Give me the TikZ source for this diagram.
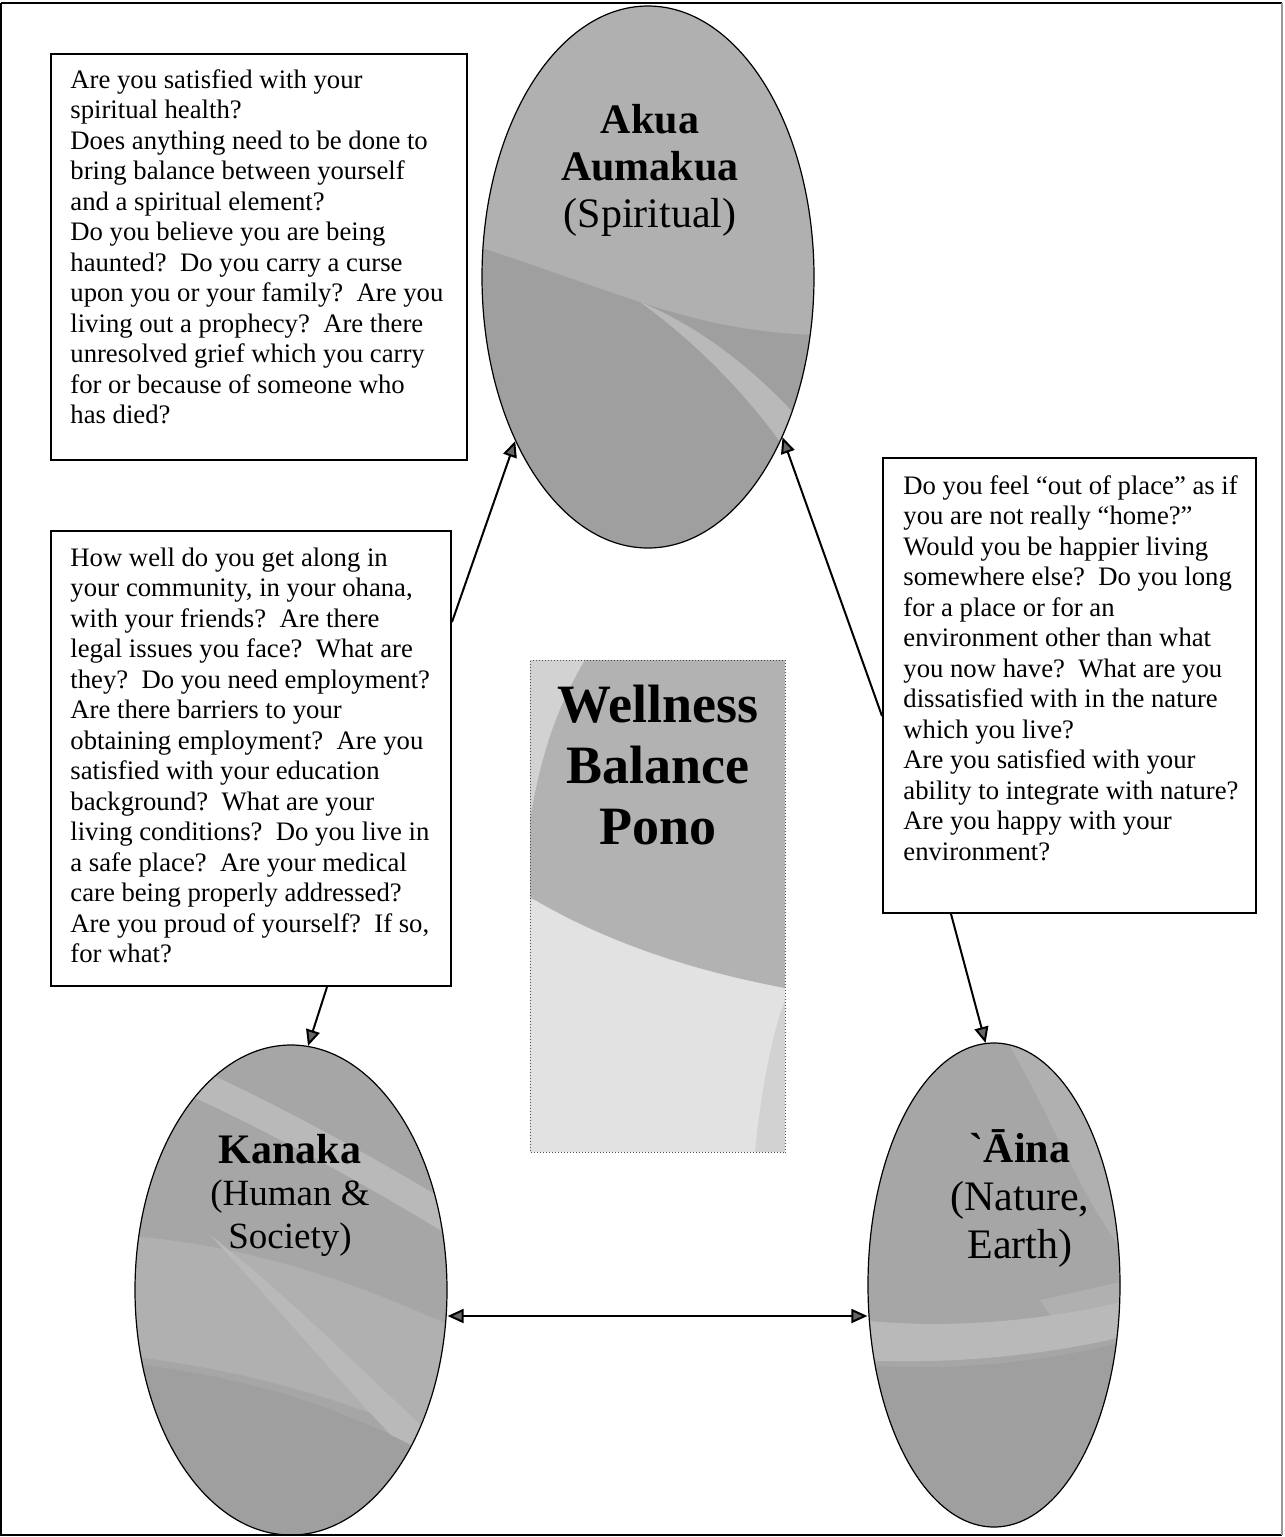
\documentclass[tikz,border=0pt]{standalone}
\usepackage{fontspec}
\setmainfont{Liberation Serif}
\newfontfamily\plainserif{Liberation Serif}[Ligatures=TeXOff]
\usetikzlibrary{shapes.geometric,arrows.meta,calc}

\definecolor{ovalbase}{HTML}{A6A6A6}
\definecolor{ovallight}{HTML}{B0B0B0}
\definecolor{ovalband}{HTML}{B9B9B9}
\definecolor{ovaldark}{HTML}{9F9F9F}
\definecolor{panelgray}{HTML}{B2B2B2}
\definecolor{panellight}{HTML}{D2D2D2}
\definecolor{panelpale}{HTML}{E2E2E2}

\tikzset{
  qbox/.style={draw=black, line width=1pt, rectangle, inner sep=0pt, anchor=north west},
  qtext/.style={anchor=base west, inner sep=0pt, font=\fontsize{13.35}{15.25}\selectfont},
  oval/.style={draw=black, line width=0.6pt, ellipse, inner sep=0pt},
  link/.style={draw=black, line width=1pt, -{Triangle[length=8pt,width=7pt,fill=black!60]}},
  twoway/.style={draw=black, line width=1pt, {Triangle[length=8pt,width=7pt,fill=black!60]}-{Triangle[length=8pt,width=7pt,fill=black!60]}},
}

\begin{document}
\begin{tikzpicture}[x=0.5pt,y=-0.5pt]
\useasboundingbox (0,0) rectangle (1285,1537);
\fill[white] (0,0) rectangle (1285,1537);

% ---- shaded fills of the three ovals ----
\begin{scope}
  \clip (648,277) ellipse [x radius=166, y radius=271];
  \fill[ovaldark] (470,0) rectangle (830,560);
  \fill[ovallight] (470,0) -- (830,0) -- (830,335)
     .. controls (760,335) and (700,322) .. (640,302)
     .. controls (580,282) and (520,260) .. (470,244) -- cycle;
  % tapered light streak running to the lower right
  \fill[ovalband] (640,302) .. controls (720,335) and (790,400) .. (840,470)
     -- (840,540) .. controls (790,440) and (720,360) .. (640,302) -- cycle;
\end{scope}

\begin{scope}
  \clip (291,1290) ellipse [x radius=156, y radius=245];
  \fill[ovalbase] (120,1030) rectangle (460,1540);
  \draw[ovalband, line width=14pt] (150,1062) .. controls (260,1110) and (370,1170) .. (470,1232);
  \fill[ovallight] (120,1235) .. controls (250,1245) and (350,1280) .. (460,1330)
     -- (460,1450) .. controls (350,1400) and (250,1370) .. (120,1355) -- cycle;
  \fill[ovalband] (210,1235) .. controls (300,1305) and (380,1390) .. (470,1470)
     -- (470,1515) .. controls (370,1420) and (290,1320) .. (210,1235) -- cycle;
  \fill[ovaldark] (120,1362) .. controls (250,1377) and (350,1407) .. (460,1472)
     -- (460,1540) -- (120,1540) -- cycle;
\end{scope}

\begin{scope}
  \clip (994,1285) ellipse [x radius=126, y radius=242];
  \fill[ovalbase] (860,1030) rectangle (1130,1540);
  \fill[ovallight] (1000,1030) .. controls (1050,1110) and (1080,1200) .. (1130,1260) -- (1130,1030) -- cycle;
  \fill[ovallight] (1040,1300) -- (1130,1280) -- (1130,1330) -- (1060,1330) -- cycle;
  \fill[ovalband] (860,1320) .. controls (950,1330) and (1050,1320) .. (1130,1300)
     -- (1130,1335) .. controls (1050,1355) and (950,1365) .. (860,1360) -- cycle;
  \fill[ovaldark] (860,1365) .. controls (950,1372) and (1050,1362) .. (1130,1340)
     -- (1130,1540) -- (860,1540) -- cycle;
\end{scope}

% ---- central panel fill ----
\begin{scope}
  \clip (530,660) rectangle (785,1152);
  \fill[panelpale] (530,660) rectangle (785,1152);
  \fill[panellight] (530,660) rectangle (785,900);
  \fill[panelgray] (585,660) -- (785,660) -- (785,988)
     .. controls (700,972) and (610,945) .. (530,897) -- (530,820)
     .. controls (540,760) and (555,710) .. (585,660) -- cycle;
  \fill[panellight] (785,1000) -- (785,1152) -- (755,1152)
     .. controls (760,1100) and (770,1040) .. (785,1000) -- cycle;
\end{scope}

% ---- outer frame ----
\draw[line width=1pt] (1,3) -- (1282,3);
\draw[line width=1pt] (1,3) -- (1,1535) -- (1282,1535);
\draw[line width=1pt, black!40] (1282,3) -- (1282,1535);

% ---- ovals ----
\node[oval, minimum width=166pt, minimum height=271pt] (akua) at (648,277) {};
\node[oval, minimum width=156pt, minimum height=245pt] (kanaka) at (291,1290) {};
\node[oval, minimum width=126pt, minimum height=242pt] (aina) at (994,1285) {};

% ---- central panel ----
\node[draw=black!70, densely dotted, line width=0.5pt, rectangle, inner sep=0pt,
      anchor=north west, minimum width=127.5pt, minimum height=246pt] (pono) at (530,660) {};

% ---- oval titles ----
\node[inner sep=0pt, anchor=base, font=\fontsize{21}{23.5}\selectfont] (akuatitle) at (650,133)
  {\begin{tabular}[t]{@{}c@{}}\textbf{Akua}\\ \textbf{Aumakua}\\ (Spiritual)\end{tabular}};
\node[inner sep=0pt, anchor=base, font=\fontsize{18.5}{21.25}\selectfont] (kanakatitle) at (290,1163)
  {\begin{tabular}[t]{@{}c@{}}{\fontsize{21}{21.25}\selectfont\textbf{Kanaka}}\\ (Human \&\\ Society)\end{tabular}};
\node[inner sep=0pt, anchor=base, font=\fontsize{21}{24}\selectfont] (ainatitle) at (1020,1162)
  {\begin{tabular}[t]{@{}c@{}}{\plainserif\bfseries `Āina}\\ (Nature,\\ Earth)\end{tabular}};

% ---- panel title ----
\node[inner sep=0pt, anchor=base, font=\fontsize{27}{30.5}\selectfont\bfseries] (ponotitle) at (658,722)
  {\begin{tabular}[t]{@{}c@{}}Wellness\\ Balance\\ Pono\end{tabular}};

% ---- question boxes ----
\node[qbox, minimum width=208pt, minimum height=203pt] (q1) at (50,53) {};
\node[qbox, minimum width=200pt, minimum height=227.5pt] (q2) at (50,530) {};
\node[qbox, minimum width=186.5pt, minimum height=227.5pt] (q3) at (882,457) {};

\node[qtext] (q1text) at (70,88) {\begin{tabular}[t]{@{}l@{}}
Are you satisfied with your\\
spiritual health?\\
Does anything need to be done to\\
bring balance between yourself\\
and a spiritual element?\\
Do you believe you are being\\
haunted?\ \ Do you carry a curse\\
upon you or your family?\ \ Are you\\
living out a prophecy?\ \ Are there\\
unresolved grief which you carry\\
for or because of someone who\\
has died?
\end{tabular}};

\node[qtext] (q2text) at (70,566) {\begin{tabular}[t]{@{}l@{}}
How well do you get along in\\
your community, in your ohana,\\
with your friends?\ \ Are there\\
legal issues you face?\ \ What are\\
they?\ \ Do you need employment?\\
Are there barriers to your\\
obtaining employment?\ \ Are you\\
satisfied with your education\\
background?\ \ What are your\\
living conditions?\ \ Do you live in\\
a safe place?\ \ Are your medical\\
care being properly addressed?\\
Are you proud of yourself?\ \ If so,\\
for what?
\end{tabular}};

\node[qtext] (q3text) at (903,494) {\begin{tabular}[t]{@{}l@{}}
Do you feel “out of place” as if\\
you are not really “home?”\\
Would you be happier living\\
somewhere else?\ \ Do you long\\
for a place or for an\\
environment other than what\\
you now have?\ \ What are you\\
dissatisfied with in the nature\\
which you live?\\
Are you satisfied with your\\
ability to integrate with nature?\\
Are you happy with your\\
environment?
\end{tabular}};

% ---- connectors ----
\draw[link] ([yshift=-46pt]q2.north east) -- (akua.231);
\draw[link] ([yshift=-15.25pt]q3.west) -- (akua.310);
\draw[link] ([xshift=-59.25pt]q3.south) -- (aina.92);
\draw[link] ([xshift=38pt]q2.south) -- (kanaka.86);
\draw[twoway] ([yshift=-13pt]kanaka.east) -- ([yshift=-15.5pt]aina.west);
\end{tikzpicture}
\end{document}
